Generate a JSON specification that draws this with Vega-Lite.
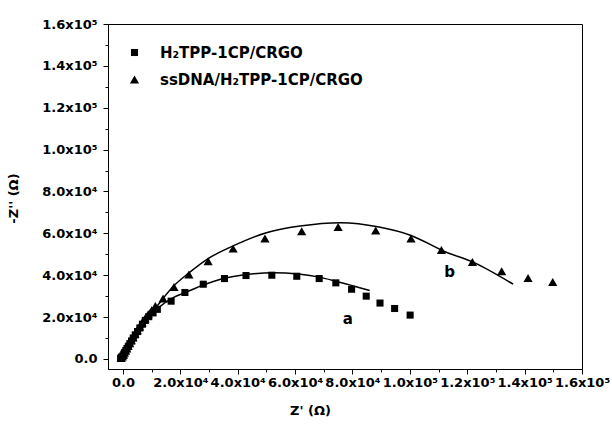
{
  "$schema": "https://vega.github.io/schema/vega-lite/v6.json",
  "width": 474,
  "height": 345,
  "autosize": "none",
  "padding": {"left": 108, "top": 24, "right": 30, "bottom": 61},
  "background": "white",
  "config": {
    "view": {"stroke": "black", "strokeWidth": 1},
    "font": "DejaVu Sans",
    "axis": {
      "domainColor": "black",
      "tickColor": "black",
      "labelColor": "black",
      "titleColor": "black",
      "grid": false,
      "labelFont": "DejaVu Sans",
      "titleFont": "DejaVu Sans",
      "labelFontWeight": "bold",
      "titleFontWeight": "bold",
      "labelFontSize": 13,
      "titleFontSize": 13
    }
  },
  "datasets": {
    "pts": [
      {"series": "H₂TPP-1CP/CRGO", "x": -800, "y": 300},
      {"series": "H₂TPP-1CP/CRGO", "x": -500, "y": 900},
      {"series": "H₂TPP-1CP/CRGO", "x": 0, "y": 1500},
      {"series": "H₂TPP-1CP/CRGO", "x": 300, "y": 2300},
      {"series": "H₂TPP-1CP/CRGO", "x": 600, "y": 3100},
      {"series": "H₂TPP-1CP/CRGO", "x": 1000, "y": 4000},
      {"series": "H₂TPP-1CP/CRGO", "x": 1400, "y": 5000},
      {"series": "H₂TPP-1CP/CRGO", "x": 1900, "y": 6100},
      {"series": "H₂TPP-1CP/CRGO", "x": 2400, "y": 7300},
      {"series": "H₂TPP-1CP/CRGO", "x": 3000, "y": 8600},
      {"series": "H₂TPP-1CP/CRGO", "x": 3600, "y": 10000},
      {"series": "H₂TPP-1CP/CRGO", "x": 4300, "y": 11500},
      {"series": "H₂TPP-1CP/CRGO", "x": 5100, "y": 13100},
      {"series": "H₂TPP-1CP/CRGO", "x": 5900, "y": 14800},
      {"series": "H₂TPP-1CP/CRGO", "x": 6800, "y": 16600},
      {"series": "H₂TPP-1CP/CRGO", "x": 7800, "y": 18400},
      {"series": "H₂TPP-1CP/CRGO", "x": 9000, "y": 20200},
      {"series": "H₂TPP-1CP/CRGO", "x": 10500, "y": 22000},
      {"series": "H₂TPP-1CP/CRGO", "x": 12000, "y": 23700},
      {"series": "H₂TPP-1CP/CRGO", "x": 16800, "y": 27600},
      {"series": "H₂TPP-1CP/CRGO", "x": 21600, "y": 31750},
      {"series": "H₂TPP-1CP/CRGO", "x": 28000, "y": 35700},
      {"series": "H₂TPP-1CP/CRGO", "x": 35400, "y": 38400},
      {"series": "H₂TPP-1CP/CRGO", "x": 42900, "y": 39850},
      {"series": "H₂TPP-1CP/CRGO", "x": 51900, "y": 40000},
      {"series": "H₂TPP-1CP/CRGO", "x": 60600, "y": 39500},
      {"series": "H₂TPP-1CP/CRGO", "x": 68400, "y": 38400},
      {"series": "H₂TPP-1CP/CRGO", "x": 74200, "y": 36350},
      {"series": "H₂TPP-1CP/CRGO", "x": 79700, "y": 33300},
      {"series": "H₂TPP-1CP/CRGO", "x": 84800, "y": 30000},
      {"series": "H₂TPP-1CP/CRGO", "x": 89600, "y": 26700},
      {"series": "H₂TPP-1CP/CRGO", "x": 94700, "y": 24100},
      {"series": "H₂TPP-1CP/CRGO", "x": 100100, "y": 20950},
      {"series": "ssDNA/H₂TPP-1CP/CRGO", "x": -600, "y": 500},
      {"series": "ssDNA/H₂TPP-1CP/CRGO", "x": -200, "y": 1200},
      {"series": "ssDNA/H₂TPP-1CP/CRGO", "x": 200, "y": 2000},
      {"series": "ssDNA/H₂TPP-1CP/CRGO", "x": 500, "y": 2900},
      {"series": "ssDNA/H₂TPP-1CP/CRGO", "x": 900, "y": 3900},
      {"series": "ssDNA/H₂TPP-1CP/CRGO", "x": 1300, "y": 5000},
      {"series": "ssDNA/H₂TPP-1CP/CRGO", "x": 1800, "y": 6200},
      {"series": "ssDNA/H₂TPP-1CP/CRGO", "x": 2300, "y": 7500},
      {"series": "ssDNA/H₂TPP-1CP/CRGO", "x": 2900, "y": 8900},
      {"series": "ssDNA/H₂TPP-1CP/CRGO", "x": 3500, "y": 10400},
      {"series": "ssDNA/H₂TPP-1CP/CRGO", "x": 4200, "y": 12000},
      {"series": "ssDNA/H₂TPP-1CP/CRGO", "x": 5000, "y": 13700},
      {"series": "ssDNA/H₂TPP-1CP/CRGO", "x": 5800, "y": 15500},
      {"series": "ssDNA/H₂TPP-1CP/CRGO", "x": 6700, "y": 17400},
      {"series": "ssDNA/H₂TPP-1CP/CRGO", "x": 7700, "y": 19300},
      {"series": "ssDNA/H₂TPP-1CP/CRGO", "x": 8800, "y": 21300},
      {"series": "ssDNA/H₂TPP-1CP/CRGO", "x": 10000, "y": 23300},
      {"series": "ssDNA/H₂TPP-1CP/CRGO", "x": 11300, "y": 25300},
      {"series": "ssDNA/H₂TPP-1CP/CRGO", "x": 14000, "y": 28900},
      {"series": "ssDNA/H₂TPP-1CP/CRGO", "x": 17800, "y": 34400},
      {"series": "ssDNA/H₂TPP-1CP/CRGO", "x": 23000, "y": 40300},
      {"series": "ssDNA/H₂TPP-1CP/CRGO", "x": 29700, "y": 46700},
      {"series": "ssDNA/H₂TPP-1CP/CRGO", "x": 38400, "y": 52700},
      {"series": "ssDNA/H₂TPP-1CP/CRGO", "x": 49500, "y": 57500},
      {"series": "ssDNA/H₂TPP-1CP/CRGO", "x": 62300, "y": 60950},
      {"series": "ssDNA/H₂TPP-1CP/CRGO", "x": 75000, "y": 63000},
      {"series": "ssDNA/H₂TPP-1CP/CRGO", "x": 88100, "y": 61400},
      {"series": "ssDNA/H₂TPP-1CP/CRGO", "x": 100400, "y": 57500},
      {"series": "ssDNA/H₂TPP-1CP/CRGO", "x": 111000, "y": 52000},
      {"series": "ssDNA/H₂TPP-1CP/CRGO", "x": 121800, "y": 46350},
      {"series": "ssDNA/H₂TPP-1CP/CRGO", "x": 132000, "y": 41900},
      {"series": "ssDNA/H₂TPP-1CP/CRGO", "x": 141200, "y": 38700},
      {"series": "ssDNA/H₂TPP-1CP/CRGO", "x": 149800, "y": 36800}
    ],
    "fits": [
      {"fit": "a", "i": 0, "x": 0, "y": 0},
      {"fit": "a", "i": 1, "x": 2000, "y": 4500},
      {"fit": "a", "i": 2, "x": 5000, "y": 11000},
      {"fit": "a", "i": 3, "x": 9000, "y": 19500},
      {"fit": "a", "i": 4, "x": 12900, "y": 25000},
      {"fit": "a", "i": 5, "x": 17500, "y": 29300},
      {"fit": "a", "i": 6, "x": 22200, "y": 32000},
      {"fit": "a", "i": 7, "x": 28000, "y": 35300},
      {"fit": "a", "i": 8, "x": 35000, "y": 38400},
      {"fit": "a", "i": 9, "x": 43100, "y": 40300},
      {"fit": "a", "i": 10, "x": 52400, "y": 41200},
      {"fit": "a", "i": 11, "x": 61100, "y": 40600},
      {"fit": "a", "i": 12, "x": 68000, "y": 39200},
      {"fit": "a", "i": 13, "x": 74200, "y": 37150},
      {"fit": "a", "i": 14, "x": 80000, "y": 35000},
      {"fit": "a", "i": 15, "x": 86000, "y": 32700},
      {"fit": "b", "i": 0, "x": 0, "y": 0},
      {"fit": "b", "i": 1, "x": 2000, "y": 4800},
      {"fit": "b", "i": 2, "x": 5000, "y": 11500},
      {"fit": "b", "i": 3, "x": 9000, "y": 20000},
      {"fit": "b", "i": 4, "x": 12900, "y": 27000},
      {"fit": "b", "i": 5, "x": 17500, "y": 34600},
      {"fit": "b", "i": 6, "x": 23000, "y": 41100},
      {"fit": "b", "i": 7, "x": 29700, "y": 47950},
      {"fit": "b", "i": 8, "x": 38400, "y": 54000},
      {"fit": "b", "i": 9, "x": 50000, "y": 60300},
      {"fit": "b", "i": 10, "x": 61700, "y": 63500},
      {"fit": "b", "i": 11, "x": 76000, "y": 65100},
      {"fit": "b", "i": 12, "x": 89300, "y": 63000},
      {"fit": "b", "i": 13, "x": 100400, "y": 59000},
      {"fit": "b", "i": 14, "x": 112500, "y": 51100},
      {"fit": "b", "i": 15, "x": 121800, "y": 46350},
      {"fit": "b", "i": 16, "x": 136000, "y": 35700}
    ],
    "labels": [
      {"label": "a", "x": 78400, "y": 19000},
      {"label": "b", "x": 113900, "y": 41400}
    ]
  },
  "layer": [
    {
      "data": {"name": "fits"},
      "mark": {"type": "line", "color": "black", "strokeWidth": 1.5, "interpolate": "monotone"},
      "encoding": {
        "x": {
          "field": "x", "type": "quantitative",
          "scale": {"domain": [-5200, 160000], "nice": false, "zero": false},
          "axis": {
            "orient": "bottom",
            "values": [0, 20000, 40000, 60000, 80000, 100000, 120000, 140000, 160000],
            "labelExpr": "datum.value == 0 ? '0.0' : (datum.value >= 100000 ? format(datum.value/100000, '.1f') + 'x10⁵' : format(datum.value/10000, '.1f') + 'x10⁴')",
            "labelOverlap": false,
            "labelFlush": false,
            "tickSize": 5,
            "labelPadding": 2,
            "title": "Z' (Ω)",
            "titleX": 202,
            "titleY": 41,
            "titleBaseline": "middle",
            "titleAnchor": null
          }
        },
        "y": {
          "field": "y", "type": "quantitative",
          "scale": {"domain": [-4800, 160000], "nice": false, "zero": false},
          "axis": {
            "orient": "left",
            "values": [0, 20000, 40000, 60000, 80000, 100000, 120000, 140000, 160000],
            "labelExpr": "datum.value == 0 ? '0.0' : (datum.value >= 100000 ? format(datum.value/100000, '.1f') + 'x10⁵' : format(datum.value/10000, '.1f') + 'x10⁴')",
            "labelOverlap": false,
            "labelFlush": false,
            "tickSize": 5,
            "labelPadding": 6,
            "title": "-Z'' (Ω)",
            "titleX": -95,
            "titleY": 174,
            "titleAngle": -90,
            "titleAlign": "center",
            "titleBaseline": "middle"
          }
        },
        "detail": {"field": "fit"},
        "order": {"field": "i", "type": "quantitative"}
      }
    },
    {
      "data": {"name": "pts"},
      "mark": {"type": "point", "filled": true, "color": "black", "opacity": 1},
      "encoding": {
        "x": {
          "field": "x", "type": "quantitative",
          "scale": {"domain": [-5200, 160000], "nice": false, "zero": false},
          "axis": {
            "orient": "bottom",
            "values": [10000, 30000, 50000, 70000, 90000, 110000, 130000, 150000],
            "labels": false, "domain": false, "tickSize": 3, "title": null
          }
        },
        "y": {
          "field": "y", "type": "quantitative",
          "scale": {"domain": [-4800, 160000], "nice": false, "zero": false},
          "axis": {
            "orient": "left",
            "values": [10000, 30000, 50000, 70000, 90000, 110000, 130000, 150000],
            "labels": false, "domain": false, "tickSize": 3, "title": null
          }
        },
        "shape": {
          "field": "series", "type": "nominal",
          "scale": {"domain": ["H₂TPP-1CP/CRGO", "ssDNA/H₂TPP-1CP/CRGO"], "range": ["square", "triangle-up"]},
          "legend": {
            "orient": "none",
            "legendX": 19,
            "legendY": 21,
            "title": null,
            "labelFont": "DejaVu Sans",
            "labelFontSize": 15,
            "labelFontWeight": "bold",
            "labelColor": "black",
            "labelLimit": 400,
            "labelOffset": 18,
            "rowPadding": 11,
            "symbolFillColor": "black",
            "symbolStrokeColor": "black"
          }
        },
        "size": {
          "field": "series", "type": "nominal",
          "scale": {"domain": ["H₂TPP-1CP/CRGO", "ssDNA/H₂TPP-1CP/CRGO"], "range": [50, 85]}
        }
      }
    },
    {
      "data": {"name": "labels"},
      "mark": {"type": "text", "font": "DejaVu Sans", "fontWeight": "bold", "fontSize": 15, "color": "black", "baseline": "middle", "align": "center"},
      "encoding": {
        "x": {"field": "x", "type": "quantitative", "scale": {"domain": [-5200, 160000], "nice": false, "zero": false}, "axis": null},
        "y": {"field": "y", "type": "quantitative", "scale": {"domain": [-4800, 160000], "nice": false, "zero": false}, "axis": null},
        "text": {"field": "label"}
      }
    }
  ],
  "resolve": {"axis": {"x": "independent", "y": "independent"}}
}
